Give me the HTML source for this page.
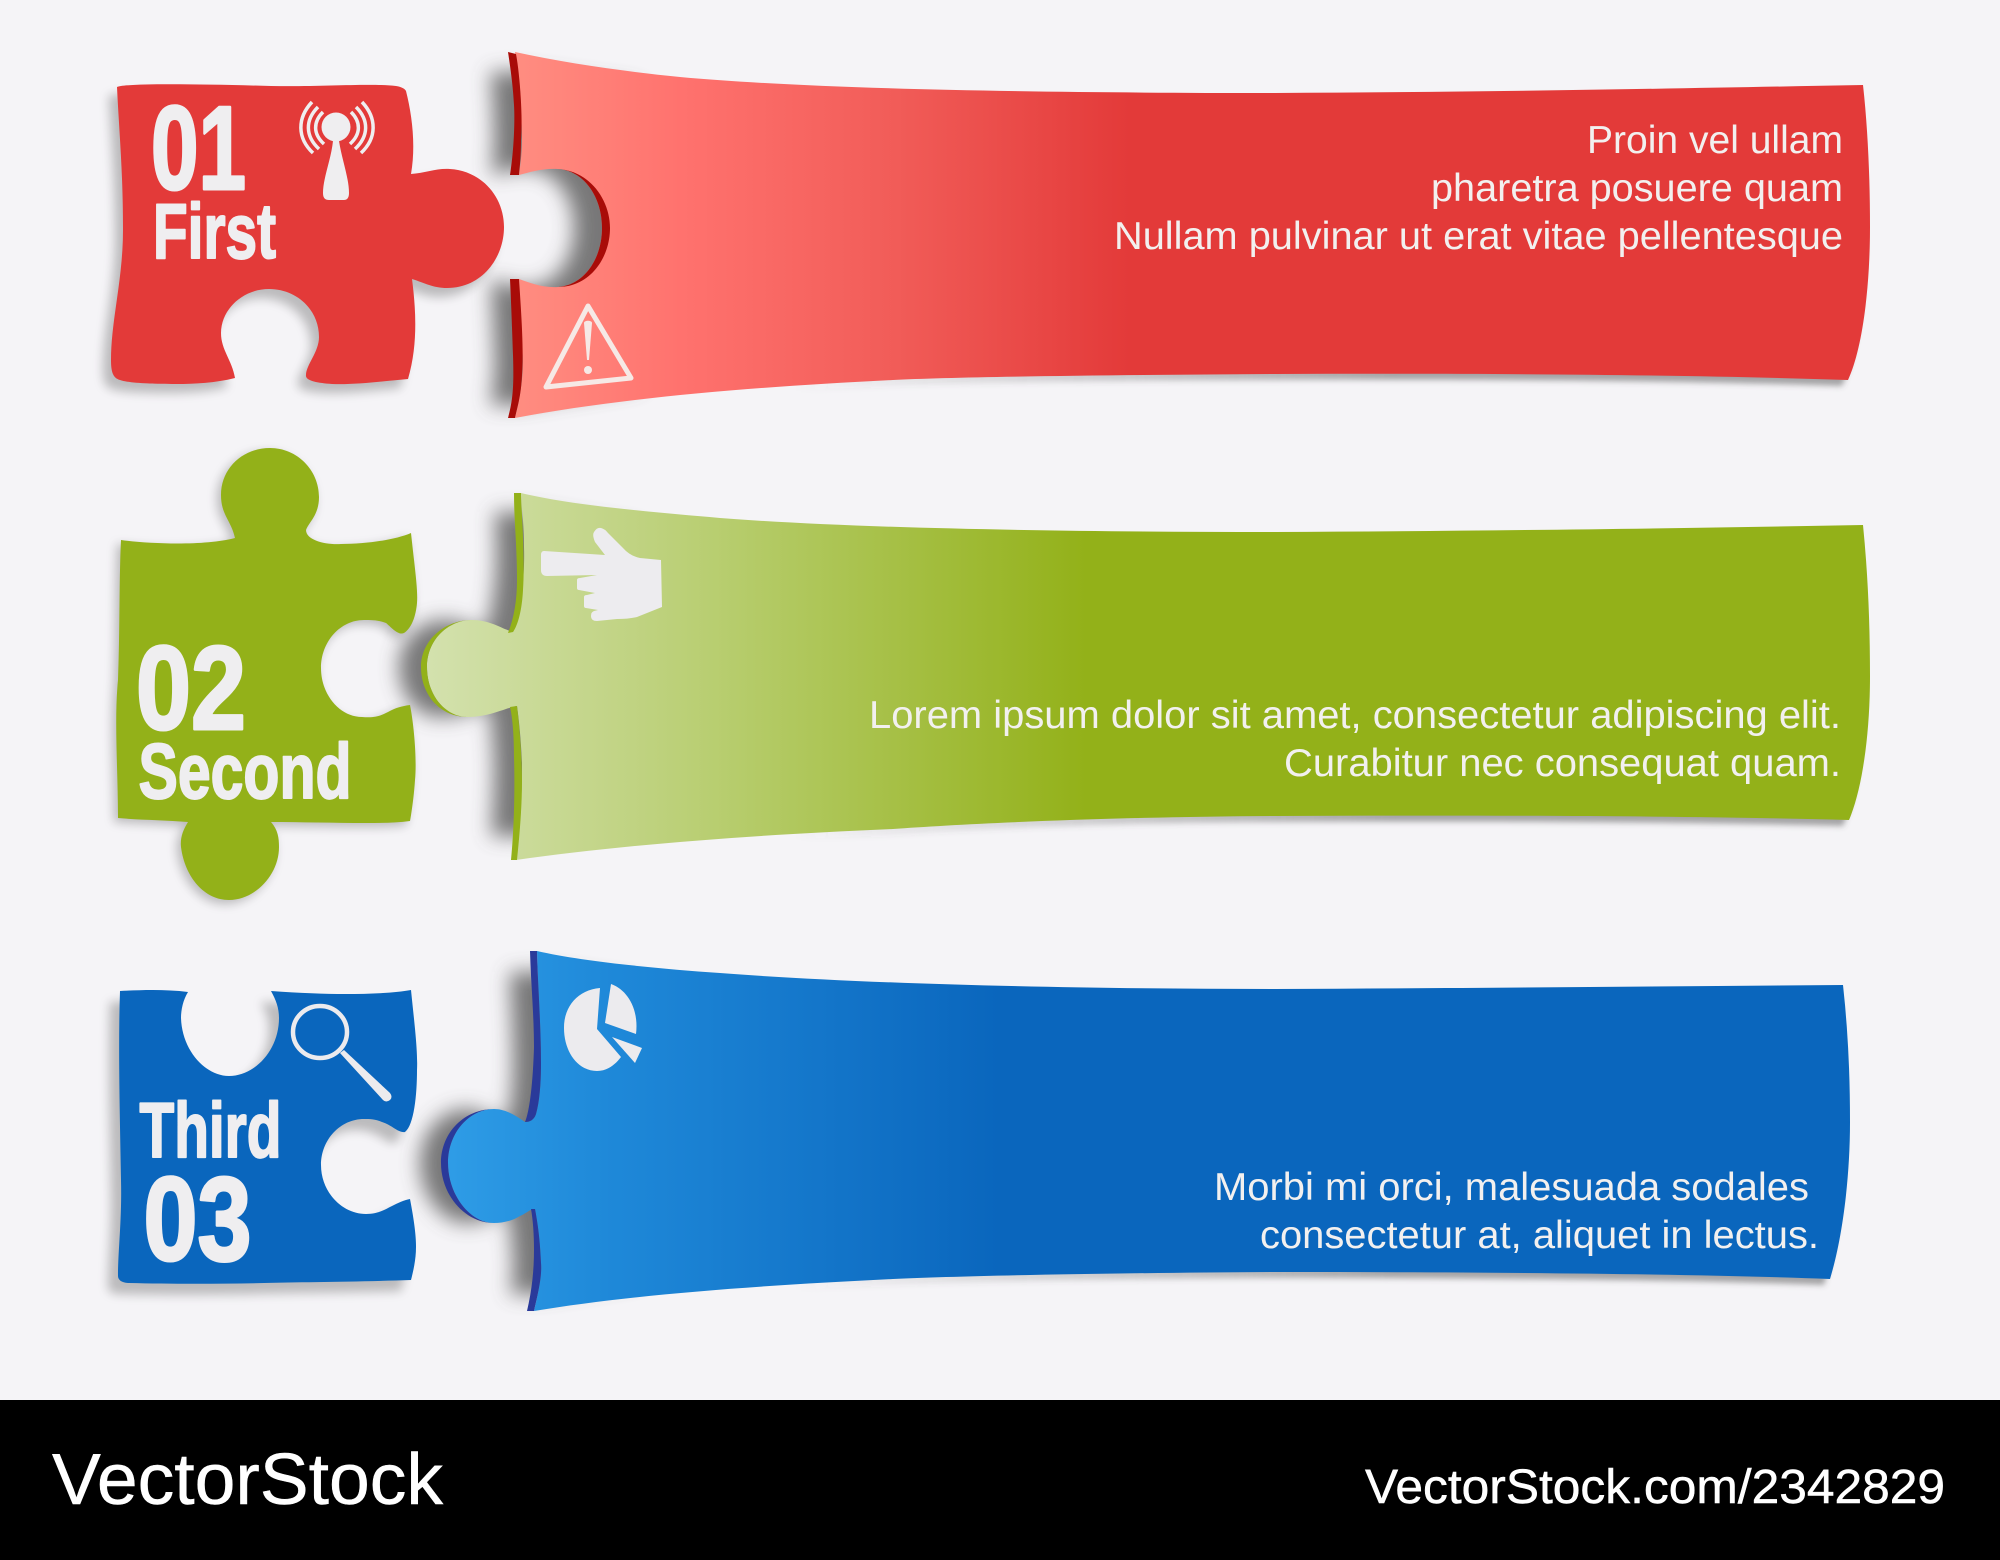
<!DOCTYPE html>
<html><head><meta charset="utf-8"><style>
html,body{margin:0;padding:0;background:#f5f4f7;width:2000px;height:1560px;overflow:hidden}
svg{display:block}
text{font-family:"Liberation Sans",sans-serif}
.d{font-weight:bold;fill:#efeef0;stroke:#efeef0;stroke-width:3;stroke-linejoin:round}
.h{font-weight:bold;fill:#efeef0;stroke:#efeef0;stroke-width:2;stroke-linejoin:round}
.b{font-size:38.5px;fill:#f2f0ef}
.f{fill:#fff;stroke:#fff;stroke-width:.5}
</style></head><body>
<svg width="2000" height="1560" viewBox="0 0 2000 1560" xmlns="http://www.w3.org/2000/svg">
<defs>
<linearGradient id="gr" gradientUnits="userSpaceOnUse" x1="515" y1="0" x2="1130" y2="0"><stop offset="0" stop-color="#ff8d81"/><stop offset=".27" stop-color="#ff726e"/><stop offset=".62" stop-color="#f15c58"/><stop offset="1" stop-color="#e33a39"/></linearGradient>
<linearGradient id="gg" gradientUnits="userSpaceOnUse" x1="430" y1="0" x2="1085" y2="0"><stop offset="0" stop-color="#d3e1ad"/><stop offset=".26" stop-color="#c3d589"/><stop offset=".45" stop-color="#b7cd6e"/><stop offset="1" stop-color="#93b119"/></linearGradient>
<linearGradient id="gb" gradientUnits="userSpaceOnUse" x1="450" y1="0" x2="1000" y2="0"><stop offset="0" stop-color="#2e9ce6"/><stop offset=".28" stop-color="#1f89d9"/><stop offset="1" stop-color="#0a66bd"/></linearGradient>
<linearGradient id="gs" gradientUnits="userSpaceOnUse" x1="800" y1="0" x2="1400" y2="0"><stop offset="0" stop-color="#555" stop-opacity="0"/><stop offset="1" stop-color="#555" stop-opacity=".5"/></linearGradient>
<filter id="b8" filterUnits="userSpaceOnUse" x="300" y="0" width="500" height="1400"><feGaussianBlur stdDeviation="10"/></filter>
<filter id="b5" filterUnits="userSpaceOnUse" x="50" y="0" width="550" height="1400"><feGaussianBlur stdDeviation="5"/></filter>
<filter id="b3" filterUnits="userSpaceOnUse" x="400" y="0" width="1600" height="1400"><feGaussianBlur stdDeviation="3"/></filter>
<clipPath id="c1"><polygon points="440,72 520,72 640,88 640,385 520,405 440,405"/></clipPath>
<clipPath id="c2"><polygon points="360,512 530,512 640,530 640,822 530,836 360,836"/></clipPath>
<clipPath id="c3"><polygon points="380,972 545,972 640,985 640,1278 545,1294 380,1294"/></clipPath>
<path id="p1" d="M117,87 C125,83 200,84 271,86 C320,87 370,83 396,86 C402,87 405,89 406,91 C412,115 416,145 411,174 C425,173 437,168 450,169 C482,171 504,197 504,227 C504,258 482,288 447,288 C433,288 425,283 412,279 C416,310 418,345 408,379 C385,381 355,385 332,384 C318,383 305,381 306,375 C306,365 319,352 319,337 C319,310 297,289 269,289 C242,289 221,310 221,333 C221,350 232,360 235,378 C215,383 195,384 176,384 C150,384 128,383 120,380 C113,378 111,372 111,360 C111,320 123,280 123,230 C123,170 119,130 117,87 Z"/>
<path id="p2" d="M121,540 C150,544 205,546 235,538 C231,520 221,515 221,495 C221,468 243,448 270,448 C297,448 319,470 319,497 C319,515 309,522 306,530 C306,540 325,545 341,544 C365,544 395,540 411,533 C415,570 418,590 417,603 C416,615 412,628 404,633 C398,636 390,626 386,623 C378,620 372,620 364,620 C340,620 321,642 321,668 C321,695 340,717 362,717 C375,718 380,716 388,712 C395,708 402,706 410,705 C414,725 417,760 415,780 C414,795 412,810 410,821 C395,823 380,823 366,823 C335,823 300,822 271,822 C278,830 279,838 279,847 C279,875 255,900 229,900 C205,900 185,878 181,847 C180,838 183,830 188,822 C165,820 140,820 118,818 C118,770 114,720 118,680 C120,630 119,580 121,540Z"/>
<path id="p3" d="M120,991 C140,990 165,989 188,992 C183,1000 181,1010 181,1018 C182,1050 205,1076 229,1076 C255,1076 279,1050 279,1018 C279,1008 276,1000 271,991 C300,993 325,994 345,994 C370,994 395,993 411,990 C414,1020 418,1050 417,1070 C417,1095 414,1125 405,1132 C398,1133 392,1125 382,1122 C375,1119 370,1119 364,1119 C340,1119 321,1140 321,1165 C321,1192 342,1214 366,1214 C378,1214 384,1210 392,1206 C398,1203 404,1200 410,1199 C414,1220 416,1235 416,1247 C416,1260 413,1272 411,1280 C350,1282 300,1282 264,1283 C220,1284 170,1284 129,1283 C122,1283 118,1280 118,1276 C118,1250 122,1220 121,1180 C120,1120 118,1050 120,991Z"/>
<path id="b1" d="M515,52 C570,64 630,72 680,77 C800,88 1000,93 1275,93 C1500,92 1700,88 1863,85 C1868,130 1870,180 1870,227 C1870,290 1862,350 1848,380 C1700,375 1500,373 1275,374 C1100,375 950,377 893,380 C750,387 620,398 515,418 C522,390 524,370 522,345 C521,320 520,300 519,279 C530,283 543,288 558,287 C585,285 602,258 602,228 C602,195 582,170 558,169 C543,168 530,172 519,175 C523,150 522,130 521,113 C521,90 518,70 515,52 Z"/>
<path id="b2" d="M521,493 C570,505 650,512 720,518 C850,528 1050,532 1275,532 C1500,531 1700,528 1863,525 C1868,575 1870,625 1870,676 C1870,735 1862,790 1849,820 C1700,816 1500,815 1275,816 C1100,817 960,824 893,829 C750,835 620,845 516,860 C521,825 522,790 522,763 C521,740 519,720 517,706 C505,708 490,717 468,717 C445,717 427,695 427,667 C427,640 448,620 472,620 C490,620 500,628 513,632 C521,610 525,575 524,547 C524,525 522,510 521,493Z"/>
<path id="b3p" d="M537,951 C580,961 650,968 720,973 C850,983 1050,989 1275,989 C1500,988 1700,986 1843,985 C1848,1030 1850,1075 1850,1122 C1850,1180 1842,1240 1830,1279 C1700,1274 1500,1272 1275,1272 C1100,1273 960,1276 893,1279 C750,1286 630,1295 534,1311 C539,1290 542,1275 541,1263 C540,1240 538,1225 535,1209 C530,1209 527,1213 520,1216 C512,1221 503,1223 494,1223 C470,1223 448,1195 448,1163 C448,1132 470,1109 494,1109 C506,1109 516,1116 525,1122 C530,1122 534,1120 536,1114 C540,1100 541,1080 541,1063 C541,1025 538,990 537,951Z"/>
</defs>

<rect width="2000" height="1400" fill="#f5f4f7"/>

<!-- banner left shadows -->
<g filter="url(#b8)" opacity=".78" fill="#555"><g clip-path="url(#c1)"><use href="#b1" transform="translate(-28,0)"/></g></g>
<g filter="url(#b8)" opacity=".78" fill="#555"><g clip-path="url(#c2)"><use href="#b2" transform="translate(-28,0)"/></g></g>
<g filter="url(#b8)" opacity=".78" fill="#555"><g clip-path="url(#c3)"><use href="#b3p" transform="translate(-28,0)"/></g></g>

<!-- banner bottom shadows -->
<g filter="url(#b3)" fill="url(#gs)">
<use href="#b1" transform="translate(-6,6)"/><use href="#b2" transform="translate(-6,6)"/><use href="#b3p" transform="translate(-6,6)"/>
</g>

<!-- piece shadows -->
<g filter="url(#b5)" opacity=".36" fill="#555">
<use href="#p1" transform="translate(-8,9)"/>
<use href="#p2" transform="translate(-4,4)"/>
<use href="#p3" transform="translate(-10,11)"/>
</g>

<!-- RED -->
<use href="#b1" fill="url(#gr)"/>
<g fill="#a80c08">
<path d="M508,52 L516,54 C520,75 523,120 521,140 C521,155 520,165 519,175 L510,175 C514,150 515,120 514,105 C513,85 510,65 508,52Z"/>
<path d="M510,279 L519,279 C521,310 524,350 522,375 C521,395 518,405 515,418 L508,418 C513,400 514,385 513,355 C512,325 511,300 510,279Z"/>
<path d="M558,169 C590,171 610,200 610,228 C610,258 590,287 558,287 C585,285 602,258 602,228 C602,195 582,170 558,169Z"/>
</g>
<use href="#p1" fill="#e33a39"/>
<text class="d" x="151" y="189" font-size="119" textLength="95" lengthAdjust="spacingAndGlyphs">01</text>
<text class="h" x="153" y="258" font-size="78" textLength="123" lengthAdjust="spacingAndGlyphs">First</text>
<g fill="#efeef0">
<circle cx="336" cy="127" r="14.5"/>
<path d="M333,141 L339,141 C342,160 349,178 349,193 C349,198 347,200 344,200 L329,200 C325,200 323,198 323,193 C323,178 331,160 333,141Z"/>
</g>
<g fill="none" stroke="#efeef0" stroke-width="3.5">
<path d="M312,102 C297,118 297,138 313,153"/><path d="M318,107 C305,120 305,136 319,149"/><path d="M323,112 C313,122 313,134 324,144"/>
<path d="M362,102 C377,118 377,138 361,153"/><path d="M356,107 C369,120 369,136 355,149"/><path d="M351,112 C361,122 361,134 350,144"/>
</g>
<path d="M588,306 L631,378 L546,387 Z" fill="none" stroke="#f6e9e6" stroke-width="5" stroke-linejoin="round"/>
<path d="M584,323 C584,320 592,320 592,323 L589,360 L587,360Z" fill="#f6e9e6"/>
<circle cx="588" cy="370" r="4" fill="#f6e9e6"/>
<text class="b" x="1843" y="153" text-anchor="end" textLength="256" lengthAdjust="spacingAndGlyphs">Proin vel ullam</text>
<text class="b" x="1843" y="201" text-anchor="end" textLength="412" lengthAdjust="spacingAndGlyphs">pharetra posuere quam</text>
<text class="b" x="1843" y="249" text-anchor="end" textLength="729" lengthAdjust="spacingAndGlyphs">Nullam pulvinar ut erat vitae pellentesque</text>

<!-- GREEN -->
<use href="#b2" fill="url(#gg)"/>
<g fill="#93b119">
<path d="M514,493 L521,493 C522,520 525,560 523,590 C522,610 518,625 513,632 L508,633 C514,618 517,600 517,580 C517,545 514,520 514,493Z"/>
<path d="M510,707 L517,706 C520,730 522,760 522,780 C522,810 519,840 517,860 L511,860 C514,830 515,790 514,757 C514,740 513,720 510,707Z"/>
<path d="M472,620 C448,620 427,640 427,667 C427,695 445,717 468,717 C440,717 421,695 421,667 C421,640 445,620 472,620Z"/>
</g>
<use href="#p2" fill="#93b119"/>
<text class="d" x="136" y="729" font-size="119" textLength="110" lengthAdjust="spacingAndGlyphs">02</text>
<text class="h" x="138.5" y="798" font-size="78" textLength="213" lengthAdjust="spacingAndGlyphs">Second</text>
<path d="M544,551 L605,555 L595,542 Q592,535 594,532 Q597,527 601,528 Q605,529 608,533 L623,548 Q630,556 640,558 L661,560 L662,607 L637,617 Q628,619 617,619 L597,621 Q591,621 591,616 Q591,612 594,611 L598,610 L586,608 Q584,608 584,606 L584,597 Q584,595 587,595 L595,593 L579,590 Q577,590 577,588 L577,580 Q577,578 580,578 L597,575 L547,576 Q541,576 541,570 L541,555 Q541,551 544,551Z" fill="#edecef"/>
<text class="b" x="1841" y="728" text-anchor="end" textLength="972" lengthAdjust="spacingAndGlyphs">Lorem ipsum dolor sit amet, consectetur adipiscing elit.</text>
<text class="b" x="1841" y="776" text-anchor="end" textLength="557" lengthAdjust="spacingAndGlyphs">Curabitur nec consequat quam.</text>

<!-- BLUE -->
<use href="#b3p" fill="url(#gb)"/>
<g fill="#2a3a9a">
<path d="M530,951 L537,951 C538,990 541,1025 541,1063 C541,1080 540,1100 536,1114 C534,1120 530,1122 525,1122 C530,1110 533,1080 534,1047 C534,1015 531,985 530,951Z"/>
<path d="M531,1209 L535,1209 C538,1225 540,1240 541,1263 C542,1275 539,1290 534,1311 L527,1311 C532,1290 534,1270 534,1250 C534,1235 533,1220 531,1209Z"/>
<path d="M494,1109 C470,1109 448,1132 448,1163 C448,1195 470,1223 494,1223 C465,1223 441,1195 441,1163 C441,1132 465,1109 494,1109Z"/>
</g>
<use href="#p3" fill="#0a66bd"/>
<text class="h" x="139.5" y="1157" font-size="78" textLength="142" lengthAdjust="spacingAndGlyphs">Third</text>
<text class="d" x="143.5" y="1260" font-size="119" textLength="108" lengthAdjust="spacingAndGlyphs">03</text>
<ellipse cx="320" cy="1032" rx="27" ry="26" fill="none" stroke="#ecebee" stroke-width="4.5"/>
<path d="M340,1053 L344,1050 L390,1093 Q393,1097 390,1100 Q386,1103 383,1100Z" fill="#ecebee"/>
<g fill="#ecebee">
<path d="M600,988 C578,990 564,1006 564,1028 C564,1052 578,1071 597,1071 C607,1071 615,1065 621,1057 L597,1029Z"/>
<path d="M611,984 C628,990 639,1010 636,1034 L605,1023Z"/>
<path d="M612,1037 L642,1048 L635,1063Z"/>
</g>
<text class="b" x="1809" y="1200" text-anchor="end" textLength="595" lengthAdjust="spacingAndGlyphs">Morbi mi orci, malesuada sodales</text>
<text class="b" x="1819" y="1248" text-anchor="end" textLength="559" lengthAdjust="spacingAndGlyphs">consectetur at, aliquet in lectus.</text>

<!-- FOOTER -->
<rect y="1400" width="2000" height="160" fill="#000"/>
<text class="f" x="52" y="1504" font-size="72" textLength="391" lengthAdjust="spacingAndGlyphs">VectorStock</text>
<text class="f" x="1365" y="1503" font-size="48" textLength="580" lengthAdjust="spacingAndGlyphs">VectorStock.com/2342829</text>
</svg>
</body></html>
